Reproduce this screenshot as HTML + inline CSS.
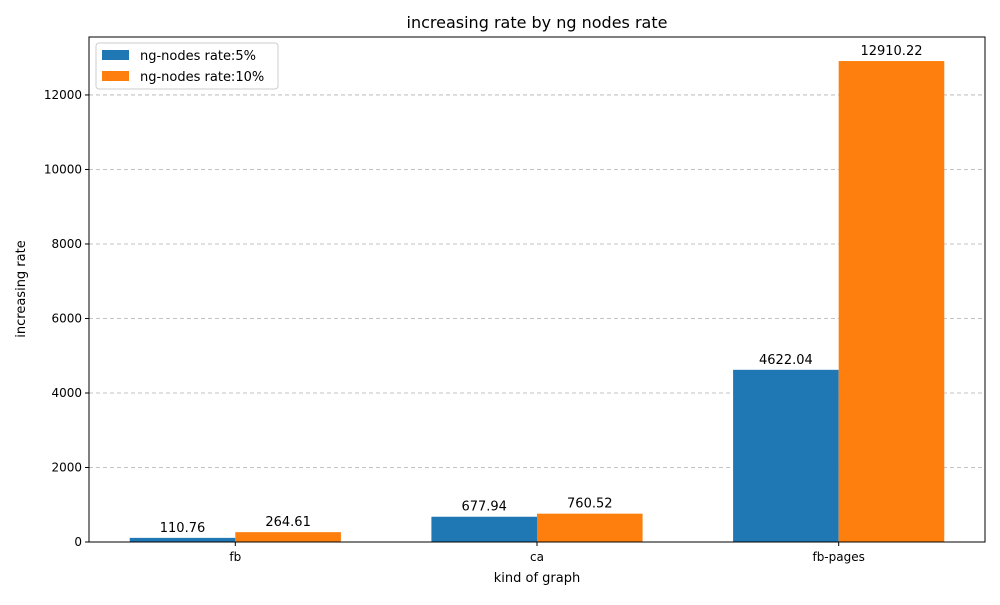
<!DOCTYPE html>
<html><head><meta charset="utf-8"><style>
body{margin:0;background:#fff;font-family:"Liberation Sans","DejaVu Sans",sans-serif;}
svg text{font-family:"DejaVu Sans","Liberation Sans",sans-serif;}
</style></head><body>
<svg id="chart" width="1000" height="600" xmlns="http://www.w3.org/2000/svg">
<rect width="1000" height="600" fill="#fff"/>
<text x="537" y="28" font-size="16" text-anchor="middle">increasing rate by ng nodes rate</text>
<g id="grid"></g><g id="bars"></g><g id="axes"></g>
<text x="537" y="582" font-size="13" text-anchor="middle">kind of graph</text>
<text x="25" y="289" font-size="13" text-anchor="middle" transform="rotate(-90 25 289)">increasing rate</text>
<g>
<rect x="96" y="43" width="182" height="46" fill="#fff" stroke="#ccc" rx="3"/>
<rect x="102" y="50" width="27" height="10" fill="#1f77b4"/>
<text x="140" y="60" font-size="13">ng-nodes rate:5%</text>
<rect x="102" y="71" width="27" height="10" fill="#ff7f0e"/>
<text x="140" y="81" font-size="13">ng-nodes rate:10%</text>
</g>
</svg>
<script>
const categories = ["fb", "ca", "fb-pages"];
const series5 = [110.76, 677.94, 4622.04];
const series10 = [264.61, 760.52, 12910.22];
const yTicks = [0, 2000, 4000, 6000, 8000, 10000, 12000];

const NS = "http://www.w3.org/2000/svg";
const L = 89, R = 985, T = 37, B = 542;
const bw = 0.35;
const n = categories.length;
const xmin = -bw - 0.05 * (n - 1 + 2 * bw), xmax = (n - 1) + bw + 0.05 * (n - 1 + 2 * bw);
const ymax = Math.max(...series5, ...series10) * 1.05;
const xs = v => L + (v - xmin) / (xmax - xmin) * (R - L);
const ys = v => B - v / ymax * (B - T);
function mk(tag, attrs, parent, text) {
  const e = document.createElementNS(NS, tag);
  for (const k in attrs) e.setAttribute(k, attrs[k]);
  if (text !== undefined) e.textContent = text;
  parent.appendChild(e);
  return e;
}
const grid = document.getElementById("grid"), bars = document.getElementById("bars"), axes = document.getElementById("axes");
yTicks.forEach(t => {
  const y = ys(t);
  if (t > 0) {
    const g = mk("line", {x1: L, x2: R, y1: y, y2: y, stroke: "#b0b0b0", "stroke-dasharray": "4,3", "stroke-width": 0.8}, grid);
    
    
  }
  mk("line", {x1: L - 4, x2: L, y1: y, y2: y, stroke: "#000"}, axes);
  const tl = mk("text", {x: L - 7, y: y + 4, "font-size": 12, "text-anchor": "end"}, axes, String(t));
  
  
});
[[series5, "#1f77b4", -bw / 2, "5pct"], [series10, "#ff7f0e", bw / 2, "10pct"]].forEach(([vals, col, off, nm]) => {
  vals.forEach((v, i) => {
    const x0 = xs(i + off - bw / 2), x1 = xs(i + off + bw / 2);
    const r = mk("rect", {x: x0, y: ys(v), width: x1 - x0, height: B - ys(v), fill: col}, bars);
    
    
    const lb = mk("text", {x: (x0 + x1) / 2, y: ys(v) - 6, "font-size": 13, "text-anchor": "middle"}, bars, v.toFixed(2));
    
    
  });
});
categories.forEach((c, i) => {
  const x = xs(i);
  mk("line", {x1: x, x2: x, y1: B, y2: B + 4, stroke: "#000"}, axes);
  const tl = mk("text", {x: x, y: B + 19, "font-size": 12, "text-anchor": "middle"}, axes, c);
  
  
});
const frame = mk("rect", {x: L, y: T, width: R - L, height: B - T, fill: "none", stroke: "#000", "stroke-width": 1}, axes);


</script>
</body></html>
